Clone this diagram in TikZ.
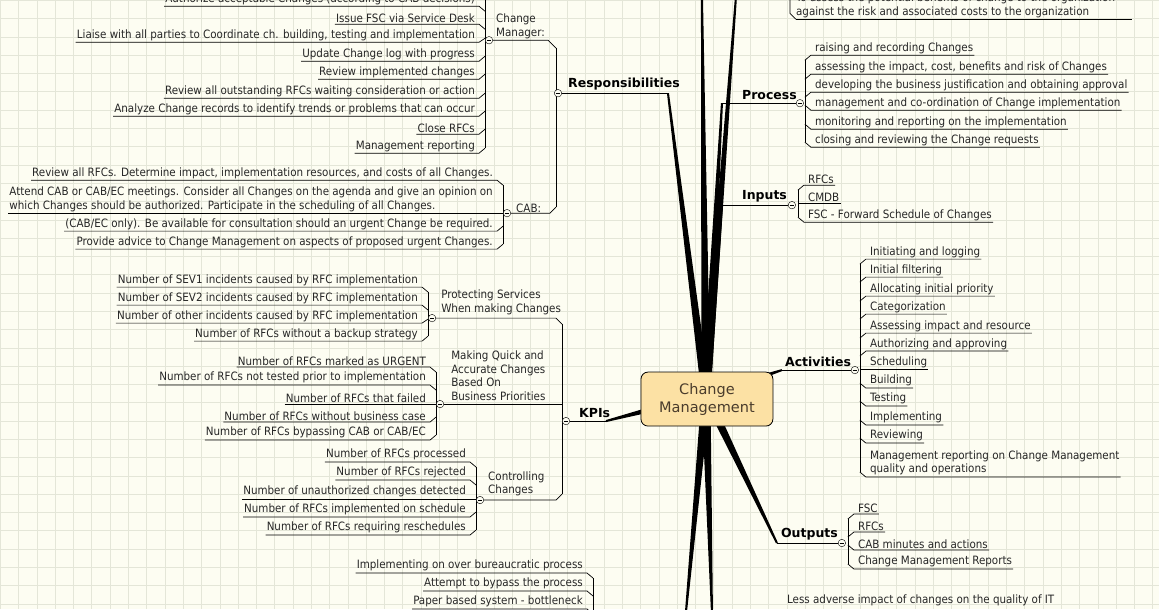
\documentclass[tikz,border=0pt]{standalone}
\usepackage{fontspec}
\setmainfont{DejaVu Sans}
\newfontfamily\leaffont{DejaVu Sans Condensed}
\usetikzlibrary{calc}
\definecolor{bgc}{HTML}{FDFDF2}
\definecolor{gridc}{HTML}{E4E6D8}
\definecolor{boxc}{HTML}{FCE1A4}
\definecolor{boxtxt}{HTML}{4A3C2C}
\tikzset{
  leaf/.style = {font=\leaffont\fontsize{11.5}{13.5}\selectfont, inner xsep=1pt, inner ysep=1.5pt, text=black!85},
  head/.style = {font=\fontsize{12.5}{14}\selectfont\bfseries, inner sep=1pt},
  sub/.style = {leaf, align=left},
  tog/.style = {circle, draw, fill=bgc, minimum size=7.5pt, inner sep=0pt,
    path picture={\draw[line width=.6pt] ([xshift=1.6pt]path picture bounding box.west) -- ([xshift=-1.6pt]path picture bounding box.east);}},
  edge/.style = {line width=.7pt},
}
% left leaf: spine x, underline y, slant, text
\newcommand\lleaf[4]{%
  \node[leaf, align=left, anchor=south east] (lf) at (#1-9,#2) {#4};
  \draw[edge] (lf.south west |- {(0,#2)}) -- (#1-6,#2) -- (#1,#2+#3);}
% right leaf
\newcommand\rleaf[4]{%
  \node[leaf, align=left, anchor=south west] (lf) at (#1+9,#2) {#4};
  \draw[edge] (#1,#2+#3) -- (#1+6,#2) -- (lf.south east |- {(0,#2)});}
% tapered branch
\newcommand\branch[2]{%
  \fill ($(#1)!4.5pt!90:(#2)$) -- ($(#2)!1pt!-90:(#1)$) -- ($(#2)!1pt!90:(#1)$) -- ($(#1)!4.5pt!-90:(#2)$) -- cycle;}

\begin{document}
\begin{tikzpicture}[x=1pt, y=-1pt]
\fill[bgc] (0,0) rectangle (1159,609);
\foreach \g in {0,18.3,...,1159} \draw[gridc, line width=.5pt] (\g,0) -- (\g,609);
\foreach \g in {0,18.3,...,609} \draw[gridc, line width=.5pt] (0,\g) -- (1159,\g);
\useasboundingbox (0,0) rectangle (1159,609);

% ends of the main branches
\coordinate (hub) at (706,395);
\coordinate (respend) at (668,93);
\coordinate (procend) at (722,103);
\coordinate (inpend) at (722,205);
\coordinate (kpiend) at (606,421);
\coordinate (actend) at (782,370);
\coordinate (outend) at (777,543);
\coordinate (topa) at (702,-3);
\coordinate (topb) at (736,-3);
\coordinate (bota) at (686,612);
\coordinate (botb) at (712,612);
\foreach \e in {respend,procend,inpend,kpiend,actend,outend,topa,topb,bota,botb}
  \branch{hub}{\e};

% Responsibilities
\node[head, anchor=south west] (resp) at (567,91) {Responsibilities};
\draw[edge] (562,93) -- (respend);
\draw[edge] (556,48) -- (556,207);
\node[sub, anchor=south west] (cm) at (495,40) {Change\\Manager:};
\draw[edge] (493,40) -- (548,40) -- (556,48);
\node[sub, anchor=south west] (cab) at (515,214) {CAB:};
\draw[edge] (511,213) -- (550,213) -- (556,207);
\node[tog] at (558,93) {};

\draw[edge] (485,-5) -- (485,148);
\lleaf{485}{6}{5}{Authorize acceptable Changes (according to CAB decisions)}
\lleaf{485}{24}{5}{Issue FSC via Service Desk}
\lleaf{485}{42}{-4}{Liaise with all parties to Coordinate ch. building, testing and implementation}
\lleaf{485}{61}{-5}{Update Change log with progress}
\lleaf{485}{79}{-5}{Review implemented changes}
\lleaf{485}{98}{-5}{Review all outstanding RFCs waiting consideration or action}
\lleaf{485}{116}{-5}{Analyze Change records to identify trends or problems that can occur}
\lleaf{485}{134}{-5}{Close RFCs}
\lleaf{485}{153}{-5}{Management reporting}
\node[tog] at (489,40) {};

\draw[edge] (503,185) -- (503,244);
\lleaf{503}{180}{5}{Review all RFCs. Determine impact, implementation resources, and costs of all Changes.}
\lleaf{503}{213}{0}{Attend CAB or CAB/EC meetings. Consider all Changes on the agenda and give an opinion on\\which Changes should be authorized. Participate in the scheduling of all Changes.}
\lleaf{503}{231}{-5}{(CAB/EC only). Be available for consultation should an urgent Change be required.}
\lleaf{503}{249}{-5}{Provide advice to Change Management on aspects of proposed urgent Changes.}
\node[tog] at (507,213) {};

% KPIs
\node[head, anchor=south west] (kpi) at (578,419) {KPIs};
\draw[edge] (570,421) -- (kpiend);
\draw[edge] (562,324) -- (562,494);
\node[sub, anchor=south west] (prot) at (440,316) {Protecting Services\\When making Changes};
\draw[edge] (436,318) -- (556,318) -- (562,324);
\node[sub, anchor=south west] (quick) at (450,402) {Making Quick and\\Accurate Changes\\Based On\\Business Priorities};
\draw[edge] (444,404) -- (562,404);
\node[sub, anchor=south west] (ctrl) at (487,498) {Controlling\\Changes};
\draw[edge] (484,500) -- (556,500) -- (562,494);
\node[tog] at (566,421) {};

\draw[edge] (428,292) -- (428,336);
\lleaf{428}{287}{5}{Number of SEV1 incidents caused by RFC implementation}
\lleaf{428}{305}{5}{Number of SEV2 incidents caused by RFC implementation}
\lleaf{428}{323}{-4}{Number of other incidents caused by RFC implementation}
\lleaf{428}{341}{-5}{Number of RFCs without a backup strategy}
\node[tog] at (432,318) {};

\draw[edge] (436,372) -- (436,435);
\lleaf{436}{367}{5}{Number of RFCs marked as URGENT}
\lleaf{436}{385}{5}{Number of RFCs not tested prior to implementation}
\lleaf{436}{404}{0}{Number of RFCs that failed}
\lleaf{436}{422}{-5}{Number of RFCs without business case}
\lleaf{436}{440}{-5}{Number of RFCs bypassing CAB or CAB/EC}
\node[tog] at (440,404) {};

\draw[edge] (476,467) -- (476,530);
\lleaf{476}{462}{5}{Number of RFCs processed}
\lleaf{476}{480}{5}{Number of RFCs rejected}
\lleaf{476}{499}{0}{Number of unauthorized changes detected}
\lleaf{476}{517}{-5}{Number of RFCs implemented on schedule}
\lleaf{476}{535}{-5}{Number of RFCs requiring reschedules}
\node[tog] at (480,500) {};

% bottom left group
\draw[edge] (593,578) -- (593,620);
\lleaf{593}{573}{5}{Implementing on over bureaucratic process}
\lleaf{593}{591}{5}{Attempt to bypass the process}
\lleaf{593}{609}{5}{Paper based system - bottleneck}

% top right group
\draw[edge] (790,-5) -- (790,13) -- (796,19);
\node[sub, anchor=south west] (aim) at (795,19) {To assess the potential benefits of change to the organization\\against the risk and associated costs to the organization};
\draw[edge] (796,19) -- (1132,19);

% Process
\node[head, anchor=south west] (proc) at (741,101) {Process};
\draw[edge] (procend) -- (796,103);
\draw[edge] (805,60) -- (805,142);
\rleaf{805}{55}{5}{raising and recording Changes}
\rleaf{805}{74}{5}{assessing the impact, cost, benefits and risk of Changes}
\rleaf{805}{92}{5}{developing the business justification and obtaining approval}
\rleaf{805}{110}{-5}{management and co-ordination of Change implementation}
\rleaf{805}{129}{-5}{monitoring and reporting on the implementation}
\rleaf{805}{147}{-5}{closing and reviewing the Change requests}
\node[tog] at (800,103) {};

% Inputs
\node[head, anchor=south west] (inp) at (741,203) {Inputs};
\draw[edge] (inpend) -- (788,205);
\draw[edge] (798,190) -- (798,217);
\rleaf{798}{185}{5}{RFCs}
\rleaf{798}{203}{0}{CMDB}
\rleaf{798}{222}{-5}{FSC - Forward Schedule of Changes}
\node[tog] at (792,205) {};

% Activities
\node[head, anchor=south west] (act) at (784,368) {Activities};
\draw[edge] (actend) -- (851,370);
\draw[edge] (860,264) -- (860,472);
\rleaf{860}{259}{5}{Initiating and logging}
\rleaf{860}{277}{5}{Initial filtering}
\rleaf{860}{296}{5}{Allocating initial priority}
\rleaf{860}{314}{5}{Categorization}
\rleaf{860}{333}{5}{Assessing impact and resource}
\rleaf{860}{351}{5}{Authorizing and approving}
\rleaf{860}{369}{0}{Scheduling}
\rleaf{860}{388}{-5}{Building}
\rleaf{860}{406}{-5}{Testing}
\rleaf{860}{425}{-5}{Implementing}
\rleaf{860}{443}{-5}{Reviewing}
\rleaf{860}{477}{-5}{Management reporting on Change Management\\quality and operations}
\node[tog] at (855,370) {};

% Outputs
\node[head, anchor=south west] (out) at (780,541) {Outputs};
\draw[edge] (outend) -- (838,543);
\draw[edge] (848,519) -- (848,564);
\rleaf{848}{514}{5}{FSC}
\rleaf{848}{532}{5}{RFCs}
\rleaf{848}{550}{-5}{CAB minutes and actions}
\rleaf{848}{569}{-5}{Change Management Reports}
\node[tog] at (842,543) {};

\node[leaf, anchor=south west] (less) at (786,608) {Less adverse impact of changes on the quality of IT};

% central topic
\node[draw, line width=.8pt, fill=boxc, rounded corners=7pt, minimum width=132pt, minimum height=54pt,
  align=center, text=boxtxt, font=\fontsize{14.5}{18}\selectfont] (cmgmt) at (707,399) {Change\\Management};
\end{tikzpicture}
\end{document}
